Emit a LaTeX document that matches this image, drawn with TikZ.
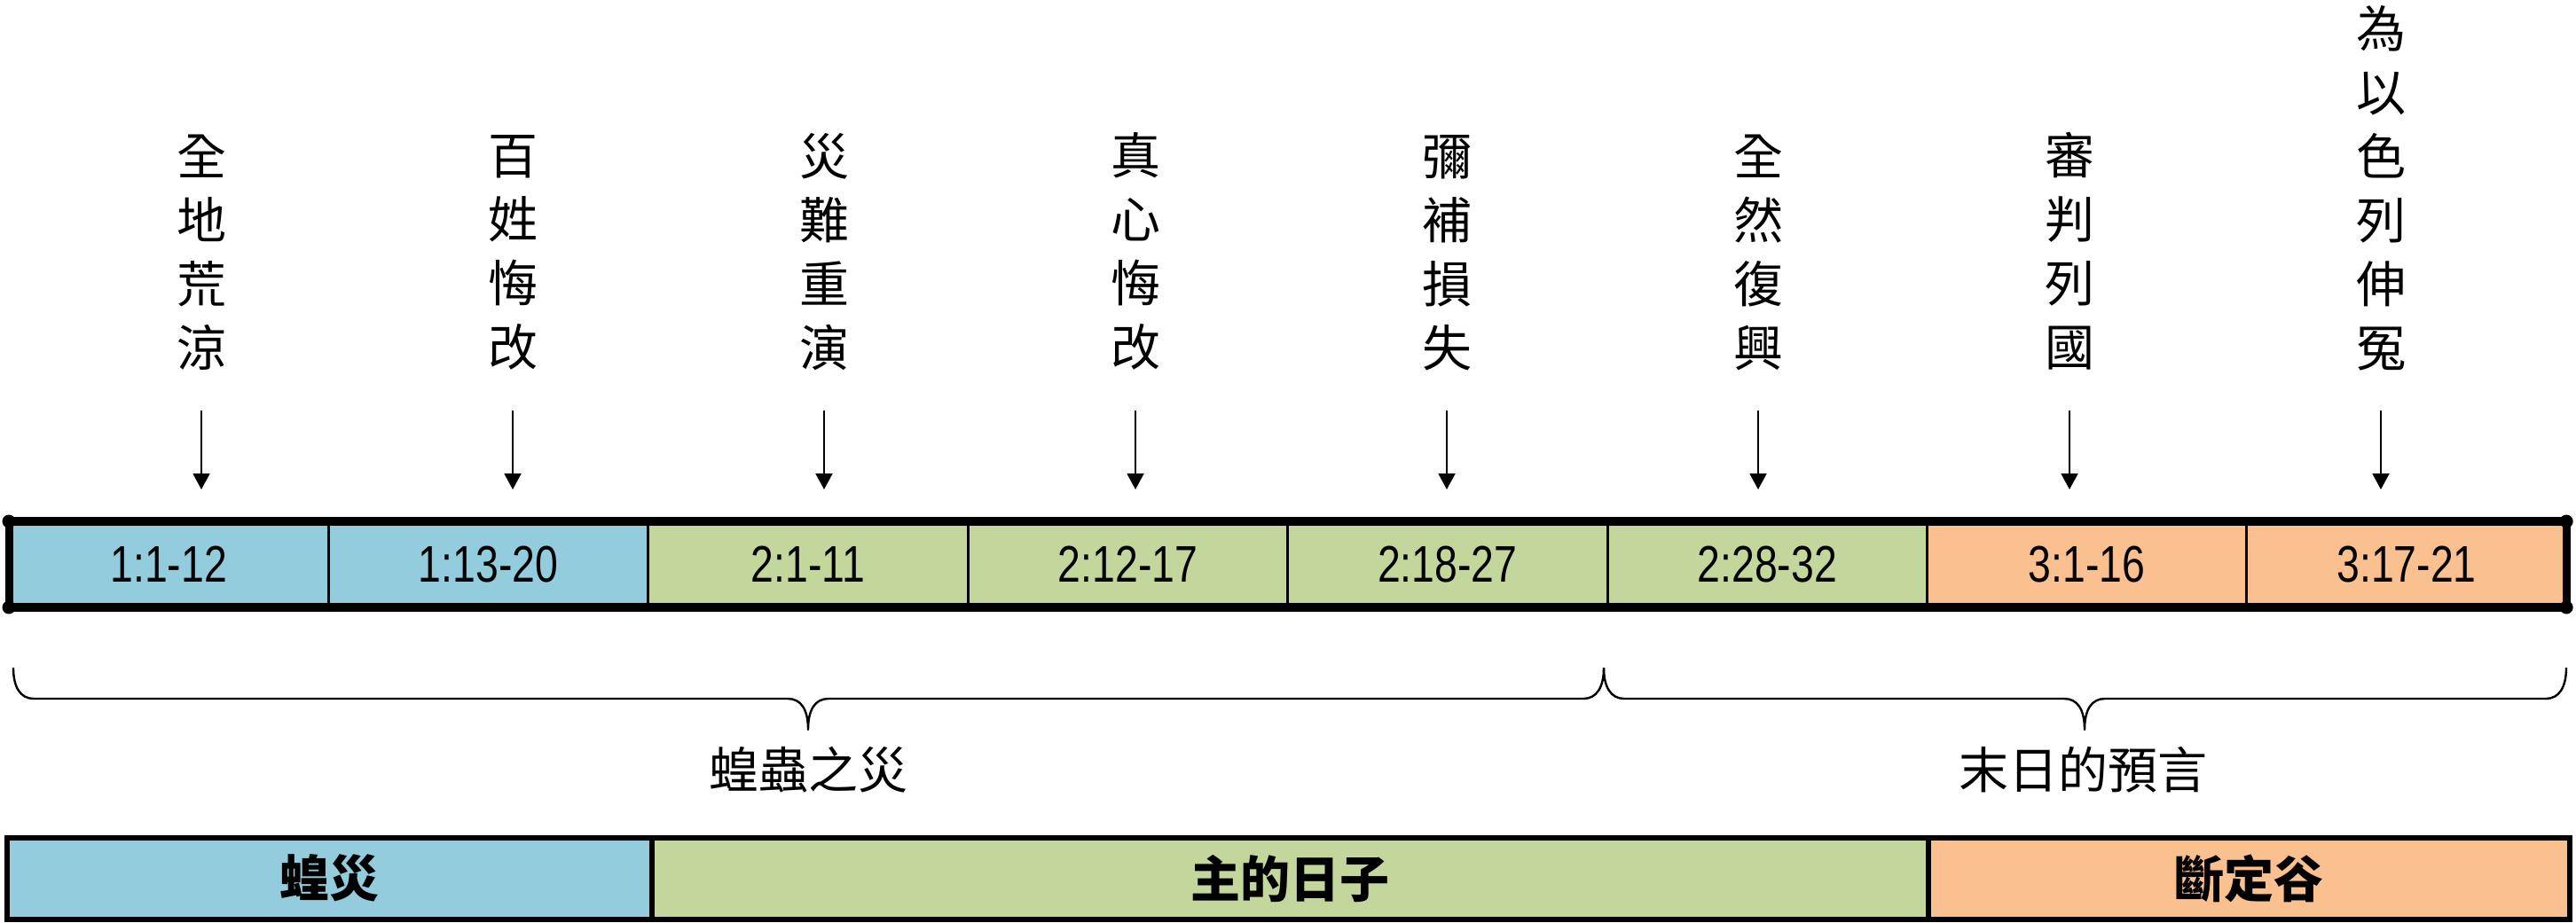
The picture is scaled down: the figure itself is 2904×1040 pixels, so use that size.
\documentclass[tikz,border=0pt]{standalone}
\usepackage{fontspec}
\setmainfont{Liberation Sans}
\newfontfamily\cjk{Noto Sans CJK TC}
\newfontfamily\narrowsans{Liberation Sans}[FakeStretch=0.8]
\usetikzlibrary{arrows.meta}
\definecolor{cblue}{HTML}{93CDDD}
\definecolor{cgreen}{HTML}{C3D69B}
\definecolor{corange}{HTML}{FAC090}
\begin{document}
\begin{tikzpicture}[x=0.5pt,y=-0.5pt,
  cell/.style={draw=black, line width=1.5pt, minimum width=180.2pt, minimum height=48.5pt,
    inner sep=0, outer sep=0, anchor=west, font=\narrowsans\fontsize{29}{29}\selectfont},
  col/.style={align=center, inner sep=0, anchor=south, font=\cjk\fontsize{28}{36}\selectfont},
  arr/.style={line width=1pt, -{Triangle[width=9.5pt,length=9pt]}},
  bracestyle/.style={line width=1.2pt, line join=round},
  blabel/.style={inner sep=0, font=\cjk\fontsize{28}{28}\selectfont},
  seg/.style={draw=black, line width=3pt, minimum height=46.25pt, inner sep=0, outer sep=0,
    anchor=west, font=\cjk\bfseries\fontsize{28}{28}\selectfont},
  outline/.style={line width=5pt},
  dot/.style={fill=black}]
\useasboundingbox (0,0) rectangle (2904,1040);

% top bar cells
\foreach \i/\t/\c in {1/1:1-12/cblue,2/1:13-20/cblue,3/2:1-11/cgreen,4/2:12-17/cgreen,
  5/2:18-27/cgreen,6/2:28-32/cgreen,7/3:1-16/corange,8/3:17-21/corange}{
  \node[cell, fill=\c] (c\i) at ({10+360.4*(\i-1)},636.5) {\t};
}
\draw[outline] (c1.north west) -- (c8.north east);
\draw[outline] (c1.south west) -- (c8.south east);
\draw[line width=4.5pt] (c1.north west) -- (c1.south west);
\draw[line width=4.5pt] (c8.north east) -- (c8.south east);
\foreach \p in {c1.north west,c1.south west,c8.north east,c8.south east}{
  \fill[dot] (\p) circle (3.75pt);
}

% columns of text and arrows
\foreach \i/\t in {1/全\\地\\荒\\涼,2/百\\姓\\悔\\改,3/災\\難\\重\\演,4/真\\心\\悔\\改,
  5/彌\\補\\損\\失,6/全\\然\\復\\興,7/審\\判\\列\\國,8/為\\以\\色\\列\\伸\\冤}{
  \node[col] (t\i) at ({227+351*(\i-1)},418) {\t};
  \coordinate (a\i) at ({227+351*(\i-1)},552);
  \draw[arr] ([yshift=-22.5pt]t\i.south) -- (a\i);
}

% braces
\coordinate (bl) at (15,753);
\coordinate (bm) at (1808,753);
\coordinate (br) at (2893,753);
\draw[bracestyle] (bl) .. controls (15,775) and (23,788) .. (38,788)
  -- (888,788) .. controls (903,788) and (911,800) .. (911,823)
  .. controls (911,800) and (919,788) .. (934,788)
  -- (1785,788) .. controls (1800,788) and (1808,775) .. (bm);
\draw[bracestyle] (bm) .. controls (1808,775) and (1816,788) .. (1831,788)
  -- (2327,788) .. controls (2342,788) and (2350,800) .. (2350,823)
  .. controls (2350,800) and (2358,788) .. (2373,788)
  -- (2870,788) .. controls (2885,788) and (2893,775) .. (br);
\node[blabel] (l1) at (911,868) {蝗蟲之災};
\node[blabel] (l2) at (2348,868) {末日的預言};

% bottom bar
\node[seg, fill=cblue, minimum width=363.5pt] (b1) at (8,990.75) {蝗災};
\node[seg, fill=cgreen, minimum width=719.5pt] (b2) at (b1.east) {主的日子};
\node[seg, fill=corange, minimum width=361.5pt] (b3) at (b2.east) {斷定谷};
\end{tikzpicture}
\end{document}
